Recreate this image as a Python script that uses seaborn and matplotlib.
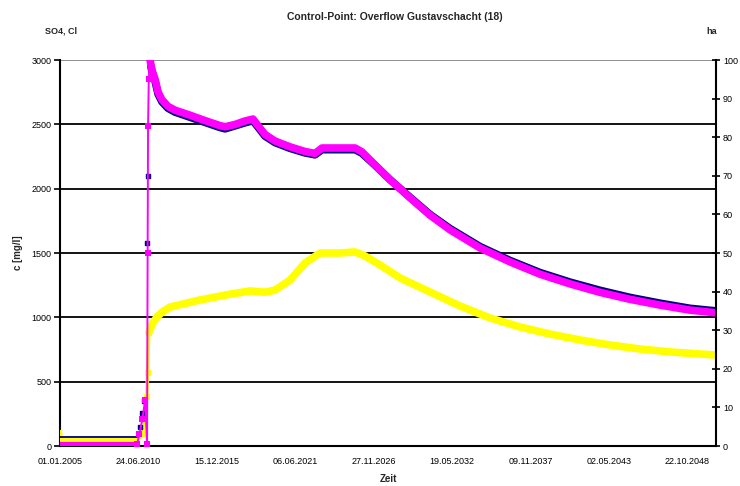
import numpy as np
import pandas as pd
import matplotlib
matplotlib.use("Agg")
import matplotlib.pyplot as plt
import seaborn as sns

# ---------------- data (decimal years, values) ----------------
title = "Control-Point: Overflow Gustavschacht (18)"
x_label = "Zeit"
y_label = "c [mg/l]"
left_unit = "SO4, Cl"
right_unit = "ha"

# SO4 (navy, left axis)
so4_year = [2005.0, 2010.38, 2010.6, 2010.75, 2010.9, 2011.05, 2011.12, 2011.35,
            2011.43, 2011.64, 2011.85, 2012.12, 2012.54, 2013.03, 2014.08, 2015.13,
            2016.18, 2016.53, 2017.22, 2017.92, 2018.48, 2018.83, 2019.32, 2020.02,
            2021.07, 2022.11, 2022.81, 2023.30, 2024.56, 2025.61, 2026.09, 2027.00,
            2028.05, 2029.45, 2030.84, 2032.24, 2034.34, 2036.43, 2038.53, 2040.62,
            2042.72, 2044.81, 2046.91, 2049.01, 2050.82]
so4_val = [70, 70, 150, 260, 350, 1580, 2100, 2950,
           2905, 2835, 2735, 2675, 2625, 2595, 2555, 2515,
           2475, 2465, 2488, 2512, 2528, 2478, 2408, 2358,
           2313, 2278, 2263, 2303, 2303, 2303, 2275, 2182,
           2070, 1933, 1800, 1690, 1550, 1442, 1348, 1274,
           1210, 1155, 1110, 1070, 1050]

# Magenta series (right axis, ha)
ha_year = [2005.0, 2010.38, 2010.55, 2010.75, 2010.95, 2011.08, 2011.12, 2011.15,
           2011.2, 2011.29, 2011.43, 2011.64, 2011.85, 2012.12, 2012.54, 2013.03,
           2014.08, 2015.13, 2016.18, 2016.53, 2017.22, 2017.92, 2018.48, 2018.83,
           2019.32, 2020.02, 2021.07, 2022.11, 2022.81, 2023.30, 2024.56, 2025.61,
           2026.09, 2027.00, 2028.05, 2029.45, 2030.84, 2032.24, 2034.34, 2036.43,
           2038.53, 2040.62, 2042.72, 2044.81, 2046.91, 2049.01, 2050.82]
ha_val = [0.5, 0.5, 3.0, 7.0, 12.0, 0.5, 50.0, 83.0,
          95.0, 100.0, 97.3, 95.0, 91.7, 89.7, 88.0, 87.0,
          85.7, 84.3, 83.0, 82.7, 83.3, 84.2, 84.7, 83.0,
          80.7, 79.0, 77.5, 76.3, 75.8, 77.2, 77.2, 77.2,
          76.2, 72.8, 69.0, 64.3, 59.8, 56.0, 51.3, 47.7,
          44.5, 42.0, 39.8, 38.0, 36.5, 35.2, 34.5]

# Cl (yellow, left axis)
cl_year = [2005.0, 2005.1, 2010.4, 2010.8, 2010.95, 2011.05, 2011.12, 2011.2,
           2011.45, 2011.75, 2012.12, 2012.68, 2014.78, 2016.87, 2018.27, 2019.32,
           2020.02, 2021.07, 2022.11, 2023.16, 2024.56, 2025.61, 2026.30, 2027.35,
           2028.75, 2030.84, 2032.94, 2035.03, 2037.13, 2039.23, 2041.32, 2043.42,
           2045.51, 2047.61, 2049.70, 2050.82]
cl_val = [110, 45, 45, 90, 200, 380, 570, 880,
          950, 1000, 1040, 1080, 1135, 1180, 1205, 1195,
          1212, 1290, 1422, 1500, 1500, 1508, 1477, 1407,
          1306, 1197, 1088, 995, 925, 870, 824, 785,
          754, 731, 715, 707]

left_ticks = [0, 500, 1000, 1500, 2000, 2500, 3000]
right_ticks = [0, 10, 20, 30, 40, 50, 60, 70, 80, 90, 100]
date_ticks = ["01.01.2005", "24.06.2010", "15.12.2015", "06.06.2021", "27.11.2026",
              "19.05.2032", "09.11.2037", "02.05.2043", "22.10.2048"]

# ---------------- helpers ----------------
origin = pd.Timestamp("2005-01-01")


def to_dates(years):
    y = np.asarray(years, dtype=float)
    return origin + pd.to_timedelta((y - 2005.0) * 365.25, unit="D")


so4 = pd.DataFrame({"date": to_dates(so4_year), "val": so4_val, "yr": so4_year})
ha = pd.DataFrame({"date": to_dates(ha_year), "val": ha_val, "yr": ha_year})
cl = pd.DataFrame({"date": to_dates(cl_year), "val": cl_val, "yr": cl_year})

sns.set_style("white")
plt.rcParams["font.family"] = ["Liberation Sans", "DejaVu Sans"]

NAVY = "#000080"
MAG = "#FF00FF"
YEL = "#FFFF00"

fig = plt.figure(figsize=(7.4, 4.86), dpi=100)
ax = fig.add_axes([60 / 740, 1 - 446 / 486, (716 - 60) / 740, (446 - 60) / 486])
ax2 = ax.twinx()

# horizontal grid
for t in left_ticks[:-1]:
    ax.axhline(t, color="black", lw=1.3, zorder=0)
ax.axhline(3000, color="#888888", lw=1.3, zorder=0)

# ---- Cl (yellow)
cl_pre = cl[cl.yr <= 2010.4]
cl_spk = cl[(cl.yr >= 2010.4) & (cl.yr <= 2011.2)]
cl_post = cl[cl.yr >= 2011.2]
sns.lineplot(data=cl_pre, x="date", y="val", ax=ax, color=YEL, lw=3.0, sort=False, zorder=3)
sns.lineplot(data=cl_spk, x="date", y="val", ax=ax, color=YEL, lw=2.5, sort=False,
             marker="s", markersize=4, markeredgewidth=0, zorder=3)
sns.lineplot(data=cl_post, x="date", y="val", ax=ax, color=YEL, lw=5.5, sort=False, zorder=3)

# ---- SO4 (navy)
so4_pre = so4[so4.yr <= 2010.38]
so4_spk = so4[(so4.yr > 2010.38) & (so4.yr < 2011.35)]
so4_post = so4[so4.yr >= 2011.35]
sns.lineplot(data=so4_pre, x="date", y="val", ax=ax, color=NAVY, lw=1.3, sort=False, zorder=4)
ax.scatter(so4_spk["date"], so4_spk["val"], color=NAVY, marker="s", s=8, zorder=4)
sns.lineplot(data=so4_post, x="date", y="val", ax=ax, color=NAVY, lw=5.5, sort=False, zorder=4)

# ---- magenta (right axis)
ha_pre = ha[ha.yr <= 2010.38]
ha_spk = ha[(ha.yr >= 2010.38) & (ha.yr <= 2011.29)]
ha_post = ha[ha.yr >= 2011.29]
sns.lineplot(data=ha_pre, x="date", y="val", ax=ax2, color=MAG, lw=3.0, sort=False)
sns.lineplot(data=ha_spk, x="date", y="val", ax=ax2, color=MAG, lw=1.4, sort=False,
             marker="s", markersize=5, markeredgewidth=0)
sns.lineplot(data=ha_post, x="date", y="val", ax=ax2, color=MAG, lw=5.5, sort=False)

# ---- axes setup
xmin = origin
xmax = origin + pd.Timedelta(days=16735)
ax.set_xlim(xmin, xmax)
ax.set_ylim(0, 3000)
ax2.set_ylim(0, 100)

tick_dates = [pd.to_datetime(d, format="%d.%m.%Y") for d in date_ticks]
ax.set_xticks(tick_dates)
ax.set_xticklabels(date_ticks)
ax.set_yticks(left_ticks)
ax.set_yticklabels([str(t) for t in left_ticks])
ax2.set_yticks(right_ticks)
ax2.set_yticklabels([str(t) for t in right_ticks])

ax.set_xlabel(x_label, fontsize=7, fontweight="bold", labelpad=6)
ax.set_ylabel(y_label, fontsize=7, fontweight="bold", labelpad=6)
ax2.set_ylabel("")

ax.tick_params(axis="x", direction="out", length=4, width=1.2, labelsize=6.5, pad=4, colors="black")
ax.tick_params(axis="y", direction="out", length=4, width=1.2, labelsize=6.5, pad=2, colors="black")
ax2.tick_params(axis="y", direction="inout", length=6, width=1.2, labelsize=6.5, pad=2, colors="black")

for a in (ax, ax2):
    a.spines["top"].set_visible(False)
    for s in ("left", "right", "bottom"):
        a.spines[s].set_color("black")
        a.spines[s].set_linewidth(1.5)
ax.spines["right"].set_visible(False)
ax2.spines["left"].set_visible(False)
ax2.spines["bottom"].set_visible(False)

fig.text(395 / 740, 1 - 17 / 486, title, ha="center", va="center", fontsize=7.5, fontweight="bold")
fig.text(45 / 740, 1 - 31 / 486, left_unit, ha="left", va="center", fontsize=6.5, fontweight="bold")
fig.text(706 / 740, 1 - 31 / 486, right_unit, ha="left", va="center", fontsize=6.5, fontweight="bold")

fig.savefig("out.png", dpi=100)
